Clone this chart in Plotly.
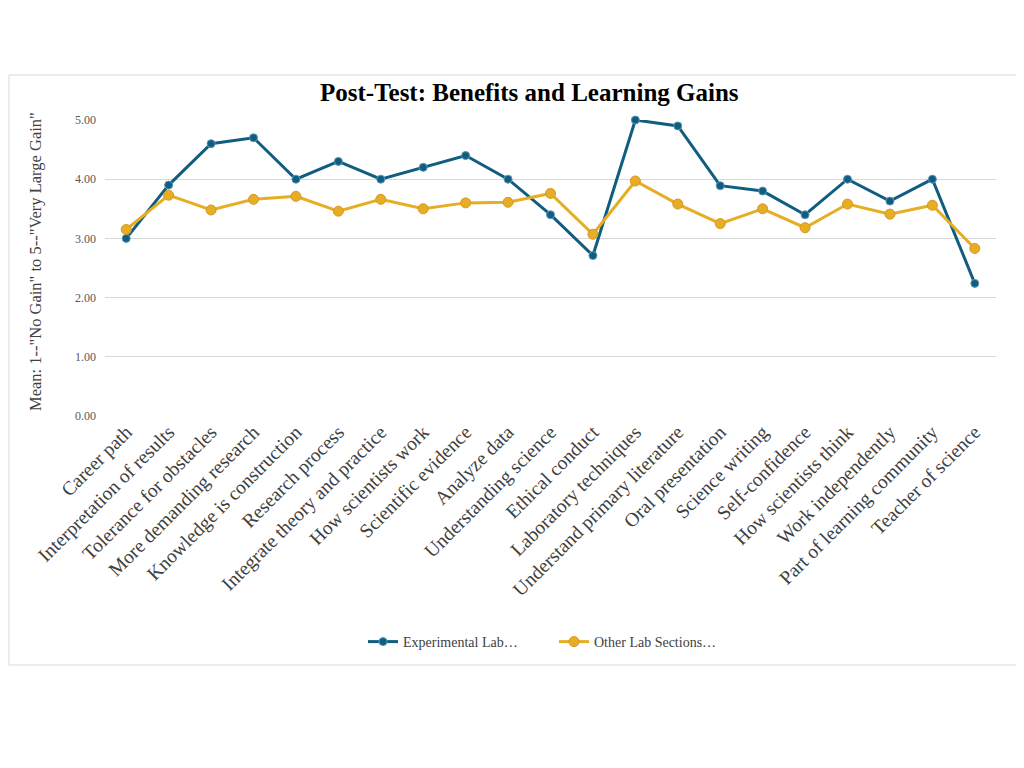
import plotly.graph_objects as go

categories = [
    "Career path", "Interpretation of results", "Tolerance for obstacles",
    "More demanding research", "Knowledge is construction", "Research process",
    "Integrate theory and practice", "How scientists work", "Scientific evidence",
    "Analyze data", "Understanding science", "Ethical conduct",
    "Laboratory techniques", "Understand primary literature", "Oral presentation",
    "Science writing", "Self-confidence", "How scientists think",
    "Work independently", "Part of learning community", "Teacher of science",
]
experimental = [3.00, 3.90, 4.60, 4.70, 4.00, 4.30, 4.00, 4.20, 4.40, 4.00, 3.40,
                2.71, 5.00, 4.90, 3.89, 3.80, 3.40, 4.00, 3.63, 4.00, 2.24]
other = [3.15, 3.73, 3.48, 3.66, 3.71, 3.46, 3.66, 3.50, 3.60, 3.61, 3.76,
         3.07, 3.97, 3.58, 3.25, 3.50, 3.18, 3.58, 3.41, 3.56, 2.83]
series_names = ["Experimental Lab…", "Other Lab Sections…"]

FONT = "Liberation Serif"
blue = "#105d80"
orange = "#e6ae22"

fig = go.Figure()
fig.add_trace(go.Scatter(
    x=categories, y=experimental, name=series_names[0], mode="lines+markers",
    line=dict(color=blue, width=3), cliponaxis=False,
    marker=dict(size=8, color=blue, line=dict(color="#5b98b8", width=1)),
))
fig.add_trace(go.Scatter(
    x=categories, y=other, name=series_names[1], mode="lines+markers",
    line=dict(color=orange, width=3), cliponaxis=False,
    marker=dict(size=10, color=orange, line=dict(color="#d9962a", width=1)),
))

OFF = 8  # page offset of the figure inside the browser page
W, H = 1024, 768
# page-coordinate plot area: x 105..996, y 120..416
L, R, T, B = 105 - OFF, W - (996 - OFF), 120 - OFF, H - (416 - OFF)
pw, ph = W - L - R, H - T - B

def px(x):
    return (x - OFF - L) / pw

def py(y):
    return (H - B - (y - OFF)) / ph

fig.update_layout(
    width=W, height=H,
    margin=dict(l=L, r=R, t=T, b=B, autoexpand=False),
    paper_bgcolor="white", plot_bgcolor="white",
    font=dict(family=FONT, color="#404040"),
    showlegend=True,
    legend=dict(orientation="h", x=px(367 - 4), xanchor="left", y=py(642), yanchor="middle",
                font=dict(size=14, color="#404040", family=FONT),
                entrywidth=146, entrywidthmode="pixels",
                tracegroupgap=0),
    xaxis=dict(
        tickangle=-45, tickfont=dict(size=19.5, family=FONT, color="#404040"),
        showgrid=False, showline=False, ticks="", range=[-0.5, 20.5],
    ),
    yaxis=dict(
        range=[0, 5], tickvals=[0, 1, 2, 3, 4, 5], tickformat=".2f",
        tickfont=dict(size=12, family=FONT, color="#595959"),
        showgrid=True, gridcolor="#d9d9d9", gridwidth=1, zeroline=False,
        showline=False, ticks="", ticklabelstandoff=8,
    ),
    shapes=[dict(type="rect", xref="paper", yref="paper",
                 x0=px(max(2, OFF + 1)), x1=px(1022), y0=py(665), y1=py(75),
                 line=dict(color="#d9d9d9", width=1), layer="below")],
    annotations=[
        dict(text="<b>Post-Test: Benefits and Learning Gains</b>", xref="paper", yref="paper",
             x=px(529), y=py(92), xanchor="center", yanchor="middle", showarrow=False,
             font=dict(size=25, family=FONT, color="#000000")),
        dict(text='Mean: 1--"No Gain" to 5--"Very Large Gain"', xref="paper", yref="paper",
             x=px(35), y=py(262), xanchor="center", yanchor="middle", showarrow=False,
             textangle=-90, font=dict(size=16.5, family=FONT, color="#404040")),
    ],
)

fig.write_html("out.html")
